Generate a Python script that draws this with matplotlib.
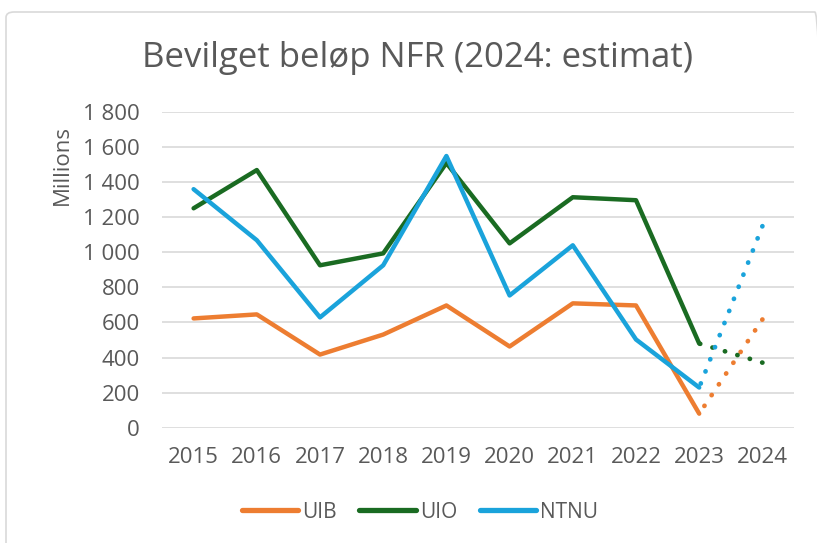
import matplotlib
matplotlib.use("Agg")
import matplotlib.pyplot as plt
from matplotlib.ticker import FuncFormatter, MultipleLocator
from matplotlib.patches import FancyBboxPatch

years = ["2015", "2016", "2017", "2018", "2019", "2020", "2021", "2022", "2023", "2024"]
uib = [623, 646, 417, 531, 697, 463, 709, 697, 80, 617]
uio = [1251, 1469, 926, 994, 1509, 1051, 1314, 1297, 480, 371]
ntnu = [1360, 1069, 629, 926, 1549, 754, 1040, 503, 229, 1149]

series = [("UIB", uib, "#ED7D31"), ("UIO", uio, "#1A6B22"), ("NTNU", ntnu, "#1AA3DB")]

plt.rcParams['font.family'] = ['Open Sans', 'DejaVu Sans']
txt = "#595959"

fig = plt.figure(figsize=(8.17, 5.43), dpi=100)
ax = fig.add_axes([162/817, 1-427.7/543, (794-162)/817, (427.7-112)/543])

border = FancyBboxPatch((6/817, -0.05), 1.0, 1 - 12/543 + 0.05,
                        boxstyle="round,pad=0,rounding_size=0.01",
                        transform=fig.transFigure, fill=False,
                        edgecolor="#D9D9D9", linewidth=1.2, zorder=0)
fig.patches.append(border)

x = list(range(len(years)))
for name, vals, col in series:
    ax.plot(x[:-1], vals[:-1], color=col, lw=3.2, solid_capstyle='round',
            solid_joinstyle='round', label=name, zorder=3)
    # draw the estimate segment from 2024 back to 2023 so a dot lands on 2024
    ax.plot(x[-1:-3:-1], vals[-1:-3:-1], color=col, lw=3.4,
            linestyle=(0, (0.05, 2.7)), dash_capstyle='round', zorder=3)

ax.set_xlim(-0.5, len(years) - 0.5)
ax.set_ylim(0, 1800)
ax.yaxis.set_major_locator(MultipleLocator(200))
ax.yaxis.set_major_formatter(FuncFormatter(lambda v, p: f"{int(v):,}".replace(",", " ")))
ax.set_xticks(x)
ax.set_xticklabels(years)
ax.grid(axis='y', color="#D9D9D9", lw=1.2)
ax.set_axisbelow(True)
for s in ax.spines.values():
    s.set_visible(False)
ax.tick_params(length=0, labelsize=16, colors=txt)
ax.tick_params(axis='y', pad=16)
ax.tick_params(axis='x', pad=14)

fig.text(62/817, 1-165/543, "Millions", rotation=90, ha='center', va='center',
         fontsize=16, color=txt)
fig.text(418/817, 1-58/543, "Bevilget beløp NFR (2024: estimat)", ha='center',
         va='center', fontsize=25, color=txt)

leg = fig.legend(loc='center', bbox_to_anchor=(420/817, 1-512/543), ncol=3,
                 frameon=False, fontsize=15, handlelength=2.7, handletextpad=0.2,
                 columnspacing=1.1, labelcolor=txt)
for h in leg.get_lines():
    h.set_linewidth(3.8)
    h.set_solid_capstyle('round')

fig.savefig("out.png", dpi=100)
